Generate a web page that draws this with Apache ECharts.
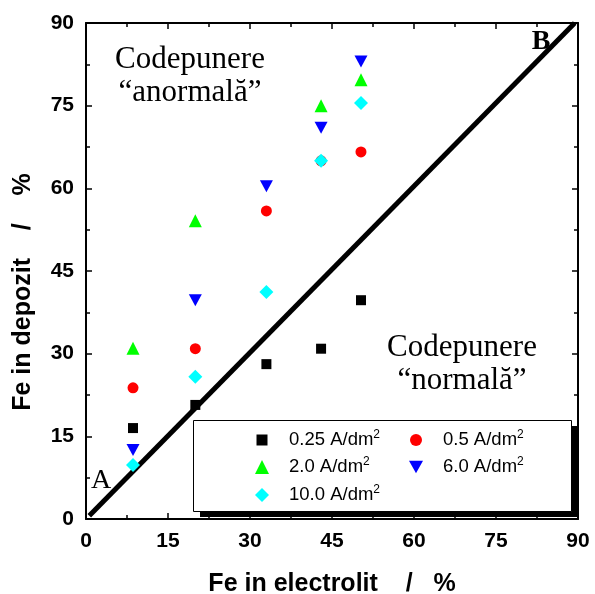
<!DOCTYPE html>
<html>
<head>
<meta charset="utf-8">
<script src="https://cdn.jsdelivr.net/npm/echarts@6/dist/echarts.min.js"></script>
<style>
html,body{margin:0;padding:0;background:#fff;}
#c{width:595px;height:594px;}
</style>
</head>
<body>
<div id="c"></div>
<script>
// Data
const xTicks = [0, 15, 30, 45, 60, 75, 90];
const seriesNames = ['0.25', '0.5', '2.0', '6.0', '10.0'];
const s025 = [[8.6, 16.5], [20, 20.7], [33, 28.1], [43, 30.9], [50.3, 39.7]];
const s05  = [[8.6, 23.8], [20, 30.9], [33, 55.9], [43, 65], [50.3, 66.6]];
const s20  = [[8.6, 31.0], [20, 54.1], [43, 75.0], [50.3, 79.7]];
const s60  = [[8.6, 12.5], [20, 39.7], [33, 60.4], [43, 71.0], [50.3, 83.0]];
const s100 = [[8.6, 9.8], [20, 25.8], [33, 41.2], [43, 65.0], [50.3, 75.5]];
const diagonal = [[0.6, 0.6], [89.4, 90]];

const colors = ['#000000', '#ff0000', '#00ff00', '#0000ff', '#00ffff'];
const symbols = ['rect', 'circle', 'triangle', 'path://M0,0 L10,0 L5,9 Z', 'diamond'];
const sizes = [10, 11, 13, [13, 12], 14];
const legendSizes = [11, 12, 14, 14, 14];
const dataSets = [s025, s05, s20, s60, s100];

const chart = echarts.init(document.getElementById('c'), null, {renderer: 'canvas'});

const axisCommon = {
  min: 0, max: 90, interval: 15,
  axisLine: {show: true, onZero: false, lineStyle: {color: '#000', width: 2}},
  axisTick: {show: true, inside: true, length: 6, lineStyle: {color: '#000', width: 1.5}},
  minorTick: {show: true, splitNumber: 2, length: 4, lineStyle: {color: '#000', width: 1.5}},
  splitLine: {show: false},
  minorSplitLine: {show: false}
};
const labelStyle = {color: '#000', fontFamily: 'Liberation Sans, Arial', fontWeight: 'bold', fontSize: 21};
const nameStyle = {color: '#000', fontFamily: 'Liberation Sans, Arial', fontWeight: 'bold', fontSize: 25};

const series = dataSets.map((d, i) => ({
  name: seriesNames[i],
  type: 'scatter',
  data: d,
  symbol: symbols[i],
  symbolSize: sizes[i],
  itemStyle: {color: colors[i], opacity: 1},
  z: 5
}));
series.unshift({
  name: 'diag',
  type: 'line',
  data: diagonal,
  showSymbol: false,
  symbol: 'none',
  lineStyle: {color: '#000', width: 5},
  silent: true,
  clip: false,
  z: 3
});

const legendPos = [
  {name: '0.25', cx: 262, cy: 440},
  {name: '0.5', cx: 416, cy: 440},
  {name: '2.0', cx: 262, cy: 467},
  {name: '6.0', cx: 416, cy: 467},
  {name: '10.0', cx: 262, cy: 495}
];
const legends = legendPos.map(p => {
  const s = legendSizes[seriesNames.indexOf(p.name)];
  return {
    data: [p.name],
    left: p.cx - s / 2, top: p.cy - 11,
    padding: 0,
    align: 'left',
    itemWidth: s, itemHeight: s,
    selectedMode: false,
    z: 20,
    formatter: n => '{t|' + n + ' A/dm}{s|2}',
    textStyle: {
      padding: [0, 0, 0, 22 - s / 2],
      rich: {
        t: {fontFamily: 'Liberation Sans, Arial', fontSize: 18.5, color: '#000', lineHeight: 22},
        s: {fontFamily: 'Liberation Sans, Arial', fontSize: 12, color: '#000', verticalAlign: 'top', lineHeight: 12, padding: [0, 0, 10, 0]}
      }
    }
  };
});

const serif = 'Liberation Serif, Times New Roman, serif';

chart.setOption({
  animation: false,
  backgroundColor: '#fff',
  grid: {left: 86, right: 17, top: 23, bottom: 75, containLabel: false, outerBoundsMode: 'none'},
  xAxis: [
    Object.assign({}, axisCommon, {
      type: 'value', position: 'bottom',
      axisLabel: Object.assign({margin: 12}, labelStyle),
      name: 'Fe in electrolit    /   %', nameLocation: 'middle', nameGap: 53,
      nameTextStyle: nameStyle
    }),
    Object.assign({}, axisCommon, {
      type: 'value', position: 'top',
      axisLabel: {show: false}
    })
  ],
  yAxis: [
    Object.assign({}, axisCommon, {
      type: 'value', position: 'left',
      axisLabel: Object.assign({margin: 12}, labelStyle),
      name: 'Fe in depozit    /    %', nameLocation: 'middle', nameGap: 50,
      nameTextStyle: Object.assign({padding: [0, 42, 0, 0]}, nameStyle)
    }),
    Object.assign({}, axisCommon, {
      type: 'value', position: 'right',
      axisLabel: {show: false}
    })
  ],
  legend: legends,
  graphic: [
    {type: 'rect', shape: {x: 200, y: 426, width: 378, height: 91}, style: {fill: '#000'}, z: 10},
    {type: 'rect', shape: {x: 193.5, y: 420.5, width: 378, height: 91}, style: {fill: '#fff', stroke: '#000', lineWidth: 1}, z: 11},
    {type: 'text', x: 190, y: 60, style: {text: 'Codepunere', font: '31px ' + serif, fill: '#000', textAlign: 'center', textVerticalAlign: 'middle'}, z: 12},
    {type: 'text', x: 190, y: 93, style: {text: '\u201Canormal\u0103\u201D', font: '31px ' + serif, fill: '#000', textAlign: 'center', textVerticalAlign: 'middle'}, z: 12},
    {type: 'text', x: 462, y: 348, style: {text: 'Codepunere', font: '31px ' + serif, fill: '#000', textAlign: 'center', textVerticalAlign: 'middle'}, z: 12},
    {type: 'text', x: 462, y: 381, style: {text: '\u201Cnormal\u0103\u201D', font: '31px ' + serif, fill: '#000', textAlign: 'center', textVerticalAlign: 'middle'}, z: 12},
    {type: 'text', x: 101, y: 481, style: {text: 'A', font: '28px ' + serif, fill: '#000', textAlign: 'center', textVerticalAlign: 'middle'}, z: 12},
    {type: 'text', x: 541, y: 42, style: {text: 'B', font: 'bold 28px ' + serif, fill: '#000', textAlign: 'center', textVerticalAlign: 'middle'}, z: 12}
  ],
  series: series
});
</script>
</body>
</html>
